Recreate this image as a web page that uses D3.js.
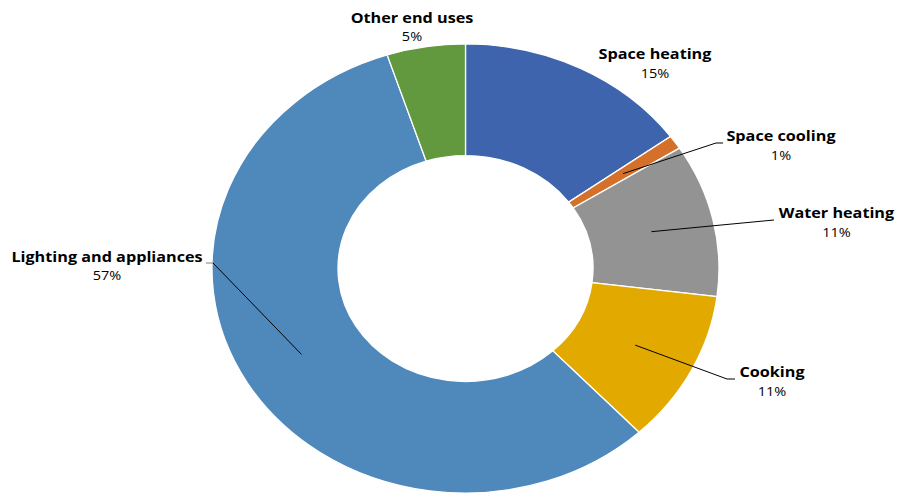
<!DOCTYPE html>
<html>
<head>
<meta charset="utf-8">
<script src="https://cdn.jsdelivr.net/npm/d3@7"></script>
<style>
  html, body { margin: 0; padding: 0; background: #ffffff; }
  svg { display: block; }
  .lbl-name { font-family: "Open Sans", Lato, sans-serif; font-weight: 700; font-size: 16.2px; fill: #000; }
  .lbl-pct { font-family: "Open Sans", Lato, sans-serif; font-weight: 400; font-size: 14.5px; fill: #000; }
</style>
</head>
<body>
<svg id="chart" width="899" height="495"></svg>
<script>
// Residential energy end uses (share of total, %)
const categories = ["Space heating", "Space cooling", "Water heating", "Cooking", "Lighting and appliances", "Other end uses"];
const shares = [15, 1, 11, 11, 57, 5];
const colors = ["#3D64AC", "#D4702A", "#939393", "#E2AA00", "#4F89BC", "#62993E"];

// Label placement: baseline anchor of the name text, and leader line bends
const labelLayout = [
  { x: 655, y: 59, leader: false },
  { x: 781, y: 141, leader: true, elbow: [716, 143], end: [723, 143] },
  { x: 836.5, y: 218, leader: true, elbow: [774, 220], end: [774, 220] },
  { x: 772, y: 377, leader: true, elbow: [727, 379], end: [735, 379] },
  { x: 107, y: 261.5, leader: true, elbow: [213, 263], end: [206, 263] },
  { x: 412, y: 22.5, leader: false }
];

const width = 899, height = 495;
const cx = 465.5, cy = 268.5;
const outerR = 253.5, innerR = 127.5;
// whole figure is drawn with a slight vertical compression
const squash = 0.886;

const svg = d3.select("#chart");

const pie = d3.pie().value(d => d).sort(null);
const arc = d3.arc().innerRadius(innerR).outerRadius(outerR);
const arcs = pie(shares);

const ring = svg.append("g")
  .attr("transform", `translate(${cx},${cy}) scale(1,${squash})`);

ring.selectAll("path")
  .data(arcs)
  .join("path")
  .attr("d", arc)
  .attr("fill", (d, i) => colors[i])
  .attr("stroke", "#ffffff")
  .attr("stroke-width", 1.3)
  .attr("vector-effect", "non-scaling-stroke");

// Leader lines from slice centroid to label
const toScreen = p => [cx + p[0], cy + p[1] * squash];

const leaders = svg.append("g");
arcs.forEach((d, i) => {
  const L = labelLayout[i];
  if (!L.leader) return;
  const c = toScreen(arc.centroid(d));
  leaders.append("path")
    .attr("d", d3.line()([c, L.elbow]))
    .attr("fill", "none")
    .attr("stroke", "#000")
    .attr("stroke-width", 1);
  if (L.end[0] !== L.elbow[0] || L.end[1] !== L.elbow[1]) {
    leaders.append("path")
      .attr("d", d3.line()([L.elbow, L.end]))
      .attr("fill", "none")
      .attr("stroke", i === 4 ? "#7f7f7f" : "#000")
      .attr("stroke-width", 1);
  }
});

// Category names and percentages
const labels = svg.append("g");
arcs.forEach((d, i) => {
  const L = labelLayout[i];
  labels.append("text")
    .attr("class", "lbl-name")
    .attr("transform", `translate(${L.x},${L.y}) scale(1,${squash})`)
    .attr("text-anchor", "middle")
    .text(categories[i]);
  labels.append("text")
    .attr("class", "lbl-pct")
    .attr("transform", `translate(${L.x},${L.y + 18.5}) scale(1,${squash})`)
    .attr("text-anchor", "middle")
    .text(shares[i] + "%");
});
</script>
</body>
</html>
